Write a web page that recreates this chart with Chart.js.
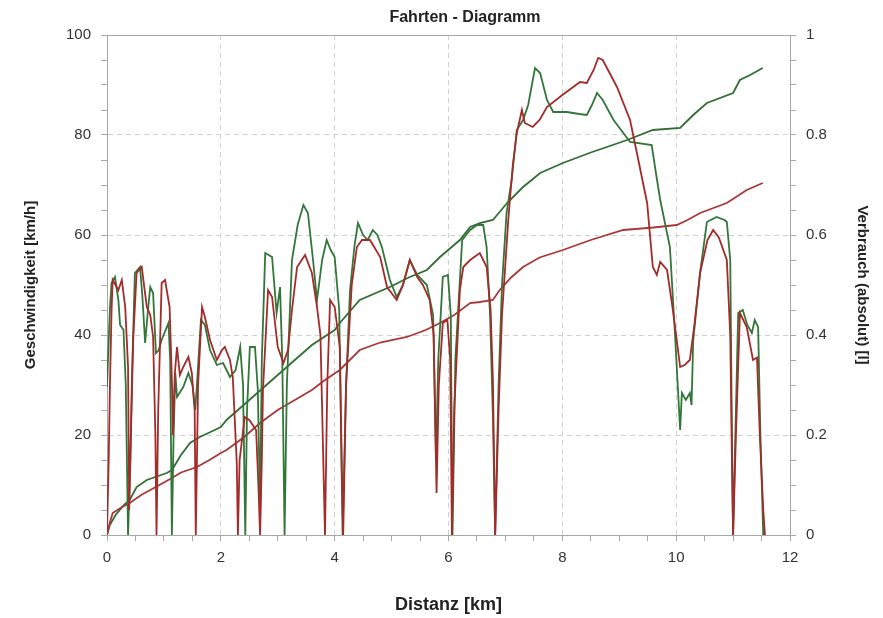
<!DOCTYPE html>
<html lang="de">
<head>
  <meta charset="UTF-8">
  <title>Fahrten - Diagramm</title>
  <script src="https://cdn.jsdelivr.net/npm/chart.js"></script>
  <style>
    body {
      margin: 0;
      padding: 0;
      background-color: #fff;
    }
    #wrap {
      width: 883px;
      height: 618px;
    }
  </style>
</head>
<body>
  <div id="wrap"><canvas id="chart" width="883" height="618"></canvas></div>
  <script>
    // Geschwindigkeit gruen (km, km/h)
    const greenSpeedKm = [0.00,0.05,0.08,0.14,0.20,0.23,0.29,0.33,0.37,0.41,0.44,0.49,0.58,0.62,0.67,0.72,0.76,0.81,0.86,0.91,0.96,1.08,1.11,1.14,1.17,1.20,1.23,1.34,1.43,1.50,1.55,1.58,1.65,1.72,1.81,1.93,2.04,2.16,2.26,2.34,2.39,2.43,2.46,2.51,2.60,2.65,2.69,2.72,2.78,2.90,2.98,3.04,3.08,3.12,3.16,3.25,3.35,3.45,3.53,3.62,3.69,3.78,3.86,3.93,4.00,4.08,4.14,4.20,4.27,4.35,4.41,4.50,4.58,4.67,4.75,4.83,4.97,5.09,5.20,5.32,5.45,5.62,5.73,5.78,5.82,5.90,5.99,6.04,6.07,6.12,6.24,6.38,6.50,6.61,6.67,6.73,6.78,6.82,6.88,6.94,7.02,7.11,7.20,7.31,7.40,7.52,7.61,7.73,7.84,8.08,8.30,8.43,8.52,8.61,8.71,8.90,9.19,9.57,9.65,9.72,9.89,9.98,10.07,10.10,10.17,10.24,10.27,10.30,10.42,10.54,10.71,10.85,10.89,10.95,10.98,11.00,11.05,11.09,11.17,11.25,11.33,11.38,11.44,11.48,11.53];
    const greenSpeed = [29.6,45,50.4,51.6,47,42,41,30,0,15,32.4,52.4,53.6,48,38.4,45,49.6,48.4,36.4,37,39,42.4,35,0,20,32.4,27.6,29.6,32.4,30,25,30,43,42,37,34,34.4,31.6,33,37.6,30,0,25,37.6,37.6,29,5,35,56.4,55.6,44.4,49.6,35,0,30,55,62,66,64.4,55,47,55,59,57,55.6,45,0,30,49,58,62.4,60,59,61,60,57.6,51,47.6,50,55,52,50,44,15,35,51.6,52,44,0,35,59,61,62,62,57.6,44,24,0,30,50,64.4,71,81,83,86,93.4,92.4,87,84.6,84.6,84.2,84,86,88.4,87,83,78.6,78,72,67,57.6,40,21,28.4,27,28.4,26,39,52.4,62.6,63.6,63,62.6,55,20,0,25,44.4,45,42,40.4,43,41.6,20,0];

    // Geschwindigkeit rot (km, km/h)
    const redSpeedKm = [0.00,0.03,0.05,0.08,0.10,0.20,0.26,0.32,0.37,0.39,0.42,0.46,0.52,0.61,0.70,0.76,0.81,0.85,0.87,0.90,0.96,1.02,1.10,1.14,1.16,1.19,1.23,1.28,1.34,1.43,1.49,1.54,1.56,1.60,1.67,1.72,1.81,1.93,2.02,2.07,2.16,2.21,2.28,2.30,2.33,2.42,2.50,2.62,2.66,2.69,2.72,2.74,2.83,2.90,3.00,3.10,3.18,3.25,3.34,3.48,3.60,3.69,3.75,3.81,3.83,3.87,3.92,4.00,4.09,4.13,4.15,4.20,4.30,4.39,4.48,4.62,4.80,4.92,5.09,5.20,5.32,5.45,5.55,5.67,5.74,5.79,5.83,5.90,5.98,6.03,6.06,6.10,6.20,6.26,6.38,6.55,6.67,6.74,6.78,6.82,6.88,6.94,7.05,7.13,7.20,7.29,7.34,7.48,7.60,7.73,8.00,8.31,8.43,8.55,8.63,8.71,8.96,9.19,9.31,9.49,9.59,9.66,9.72,9.84,9.93,10.01,10.07,10.15,10.24,10.32,10.42,10.55,10.65,10.75,10.89,10.95,10.98,11.00,11.05,11.12,11.24,11.35,11.42,11.47,11.50,11.53,11.56];
    const redSpeed = [0.4,15,29,45,51,49,51,45.6,33.6,5,20,39,52.4,53.6,45.6,44,39.6,20,0,25,50.4,51,45.6,31,20,32,37.6,32,33.6,35.6,32.4,25,0,30,45.6,43.6,39,35,37,37.6,35,31.6,14.4,0,15,23.6,23,21,10,0,15,29,49,47.6,37.6,34.4,37,45,53.6,56,52.4,45.6,40,10,0,30,47,45.6,37.6,10,0,30,50,57.6,59,59,55.6,49.6,47,50,55,51.6,50,47,40,8.4,30,42.4,43,35,0,25,49,53.6,55,56.4,53.6,45,31,0,25,44,63,74,80.4,85,82.4,81.6,83,85.6,88,90.6,90.4,93,95.4,95,89.6,83,76.4,66.4,53.6,52,54.6,53,46,39,33.6,34,35,42,52.4,59,61,59.5,55,40,15,0,20,44.4,41.6,35,35.5,20,12.4,5,0];

    // Verbrauch gruen (km, l)
    const greenFuelKm = [0.00,0.05,0.15,0.30,0.40,0.52,0.70,0.90,1.05,1.14,1.30,1.46,1.63,1.80,2.00,2.10,2.30,2.50,2.70,3.00,3.30,3.60,4.00,4.09,4.44,4.97,5.30,5.62,5.85,6.20,6.38,6.55,6.78,7.03,7.30,7.61,8.01,8.50,9.14,9.59,10.07,10.30,10.54,11.00,11.12,11.30,11.52];
    const greenFuel = [0,0.02,0.04,0.06,0.07,0.096,0.11,0.118,0.124,0.13,0.16,0.184,0.196,0.205,0.216,0.23,0.25,0.27,0.29,0.32,0.35,0.38,0.41,0.424,0.47,0.496,0.515,0.53,0.556,0.59,0.616,0.624,0.63,0.664,0.695,0.724,0.744,0.765,0.79,0.81,0.814,0.84,0.864,0.884,0.91,0.92,0.934];

    // Verbrauch rot (km, l)
    const redFuelKm = [0.00,0.05,0.10,0.25,0.40,0.60,0.76,1.00,1.14,1.30,1.58,1.80,2.00,2.10,2.40,2.70,3.00,3.30,3.60,3.83,4.09,4.44,4.80,5.27,5.60,5.85,6.10,6.38,6.55,6.78,6.90,7.10,7.31,7.60,8.01,8.50,9.07,9.60,10.01,10.20,10.42,10.89,11.24,11.52];
    const redFuel = [0,0.025,0.044,0.055,0.064,0.08,0.09,0.105,0.114,0.125,0.136,0.15,0.164,0.17,0.195,0.225,0.25,0.27,0.29,0.31,0.33,0.37,0.385,0.396,0.41,0.424,0.44,0.464,0.466,0.47,0.49,0.515,0.536,0.555,0.57,0.59,0.61,0.615,0.62,0.63,0.644,0.664,0.69,0.704];

    const xTicksMajor = [0, 2, 4, 6, 8, 10, 12];
    const speedTicksMajor = [0, 20, 40, 60, 80, 100];
    const fuelTicksMajor = ['0', '0.2', '0.4', '0.6', '0.8', '1'];

    function pairs(xs, ys) {
      return xs.map((x, i) => ({ x: x, y: ys[i] }));
    }

    const fontFam = "'Liberation Sans', Arial, sans-serif";
    const axisGrey = '#a8a8a8';
    const gridGrey = '#d0d0d0';

    // Rahmen oben + Titel
    const framePlugin = {
      id: 'frame',
      afterDraw(chart) {
        const { ctx, chartArea } = chart;
        ctx.save();
        ctx.strokeStyle = axisGrey;
        ctx.lineWidth = 1;
        ctx.beginPath();
        ctx.moveTo(chartArea.left, chartArea.top + 0.5);
        ctx.lineTo(chartArea.right, chartArea.top + 0.5);
        ctx.stroke();
        ctx.fillStyle = '#222';
        ctx.font = 'bold 16px ' + fontFam;
        ctx.textAlign = 'center';
        ctx.textBaseline = 'middle';
        ctx.fillText('Fahrten - Diagramm', 465, 18);
        ctx.restore();
      }
    };

    const ctx = document.getElementById('chart').getContext('2d');
    new Chart(ctx, {
      type: 'line',
      data: {
        datasets: [
          {
            label: 'Geschwindigkeit rot',
            data: pairs(redSpeedKm, redSpeed),
            borderColor: 'rgb(165, 42, 42)',
            borderWidth: 1.8,
            yAxisID: 'y'
          },
          {
            label: 'Geschwindigkeit grün',
            data: pairs(greenSpeedKm, greenSpeed),
            borderColor: 'rgb(50, 118, 58)',
            borderWidth: 1.8,
            yAxisID: 'y'
          },
          {
            label: 'Verbrauch rot',
            data: pairs(redFuelKm, redFuel),
            borderColor: 'rgb(170, 55, 55)',
            borderWidth: 1.8,
            yAxisID: 'y1'
          },
          {
            label: 'Verbrauch grün',
            data: pairs(greenFuelKm, greenFuel),
            borderColor: 'rgb(48, 110, 52)',
            borderWidth: 1.8,
            yAxisID: 'y1'
          }
        ]
      },
      options: {
        responsive: false,
        animation: false,
        elements: {
          point: { radius: 0 },
          line: { tension: 0 }
        },
        layout: { padding: { top: 35, left: 0, right: 0, bottom: 0 } },
        plugins: {
          legend: { display: false },
          tooltip: { enabled: false },
          title: { display: false }
        },
        scales: {
          x: {
            type: 'linear',
            min: 0,
            max: 12,
            afterFit(scale) { scale.height = 83; },
            ticks: {
              stepSize: 0.5,
              autoSkip: false,
              maxRotation: 0,
              padding: 8,
              color: '#333',
              font: { family: fontFam, size: 15 },
              callback: (v) => xTicksMajor.includes(v) ? String(v) : ''
            },
            grid: {
              color: (c) => (c.tick && xTicksMajor.includes(c.tick.value)) ? gridGrey : 'rgba(0,0,0,0)',
              tickColor: axisGrey,
              tickLength: 6
            },
            border: { color: axisGrey, dash: [5, 4] },
            title: {
              display: true,
              text: 'Distanz [km]',
              color: '#222',
              font: { family: fontFam, size: 18, weight: 'bold' },
              padding: { top: 0, bottom: 2 }
            }
          },
          y: {
            position: 'left',
            min: 0,
            max: 100,
            afterFit(scale) { scale.width = 107; },
            ticks: {
              stepSize: 5,
              autoSkip: false,
              padding: 10,
              color: '#333',
              font: { family: fontFam, size: 15 },
              callback: (v) => speedTicksMajor.includes(v) ? String(v) : ''
            },
            grid: {
              color: (c) => (c.tick && speedTicksMajor.includes(c.tick.value)) ? gridGrey : 'rgba(0,0,0,0)',
              tickColor: axisGrey,
              tickLength: 6
            },
            border: { color: axisGrey, dash: [5, 4] },
            title: {
              display: true,
              text: 'Geschwindigkeit [km/h]',
              color: '#222',
              font: { family: fontFam, size: 15, weight: 'bold' },
              padding: { top: 22, bottom: 0 }
            }
          },
          y1: {
            position: 'right',
            min: 0,
            max: 1,
            afterFit(scale) { scale.width = 93; },
            ticks: {
              stepSize: 0.05,
              autoSkip: false,
              padding: 10,
              color: '#333',
              font: { family: fontFam, size: 15 },
              callback: (v) => {
                const r = Math.round(v * 100);
                return r % 20 === 0 ? fuelTicksMajor[r / 20] : '';
              }
            },
            grid: {
              drawOnChartArea: false,
              tickColor: axisGrey,
              tickLength: 6
            },
            border: { color: axisGrey },
            title: {
              display: true,
              text: 'Verbrauch (absolut) [l]',
              color: '#222',
              font: { family: fontFam, size: 15, weight: 'bold' },
              padding: { top: 12, bottom: 0 }
            }
          }
        }
      },
      plugins: [framePlugin]
    });
  </script>
</body>
</html>
